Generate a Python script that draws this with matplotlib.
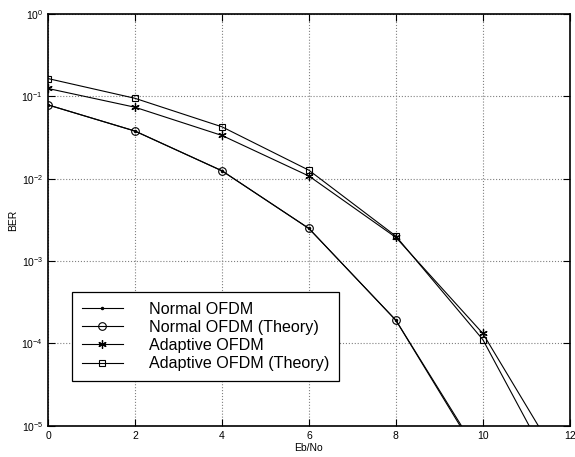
import matplotlib
matplotlib.use("Agg")
import matplotlib.pyplot as plt

plt.rcParams['font.family'] = ['Liberation Sans', 'DejaVu Sans']

ebno = [0, 2, 4, 6, 8, 10, 12]
normal_sim = [0.079, 0.038, 0.0125, 0.00249, 1.91e-4, 3.5e-6, 2e-8]
normal_theory = [0.079, 0.038, 0.0125, 0.00249, 1.91e-4, 3.8e-6, 2.2e-8]
adaptive_sim = [0.125, 0.074, 0.0336, 0.0108, 0.00194, 1.32e-4, 2.3e-6]
adaptive_theory = [0.165, 0.095, 0.0428, 0.0127, 0.00201, 1.11e-4, 1.2e-6]
labels = ['Normal OFDM', 'Normal OFDM (Theory)', 'Adaptive OFDM', 'Adaptive OFDM (Theory)']

fig = plt.figure(figsize=(5.75, 4.57), dpi=100)
ax = fig.add_axes([0.0835, 0.0685, 0.9075, 0.9005])

lw = 0.8
ax.semilogy(ebno, normal_sim, 'k-', marker='.', markersize=3, linewidth=lw, label=labels[0])
ax.semilogy(ebno, normal_theory, 'k-', marker='o', markersize=5.5, markerfacecolor='none',
            markeredgewidth=0.8, linewidth=lw, label=labels[1])
ax.semilogy(ebno, adaptive_sim, 'k-', marker=(6, 2, 0), markersize=6, markeredgewidth=0.9,
            linewidth=lw, label=labels[2])
ax.semilogy(ebno, adaptive_theory, 'k-', marker='s', markersize=5, markerfacecolor='none',
            markeredgewidth=0.8, linewidth=lw, label=labels[3])

ax.set_xlim(0, 12)
ax.set_ylim(1e-5, 1)
ax.set_xticks([0, 2, 4, 6, 8, 10, 12])
ax.set_yticks([1e-5, 1e-4, 1e-3, 1e-2, 1e-1, 1])
ax.minorticks_off()
ax.tick_params(direction='in', top=True, right=True, labelsize=7.5, length=5, width=0.8)
ax.grid(True, which='major', linestyle=':', color='#808080', linewidth=0.8)
for s in ax.spines.values():
    s.set_linewidth(1.2)

ax.set_xlabel('Eb/No', fontsize=7.5, labelpad=1.5)
ax.set_ylabel('BER', fontsize=7.5, labelpad=2)

leg = ax.legend(loc='lower left', bbox_to_anchor=(0.046, 0.1086), borderaxespad=0,
                fontsize=11.6, fancybox=False,
                edgecolor='black', framealpha=1, handlelength=2.55, borderpad=0.6,
                labelspacing=0.2, handletextpad=1.6)
leg.get_frame().set_linewidth(0.9)

fig.savefig('out.png', dpi=100)
